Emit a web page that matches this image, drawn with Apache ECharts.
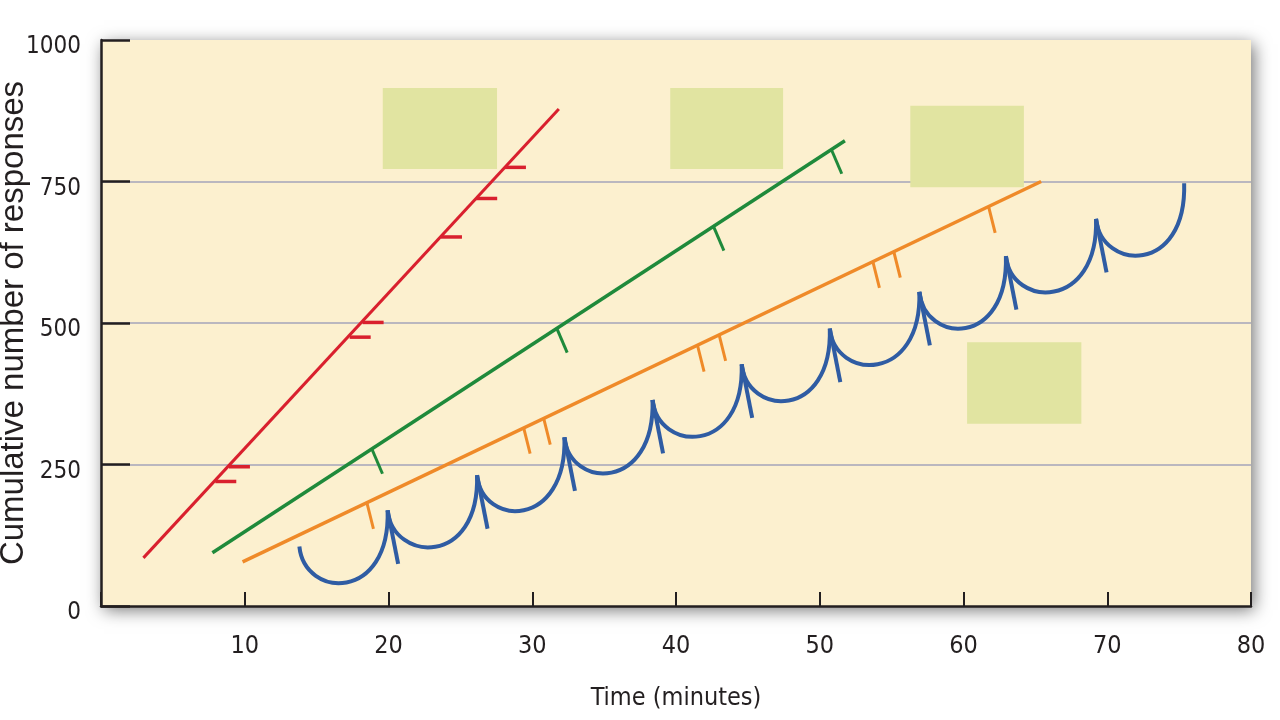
<!DOCTYPE html>
<html>
<head>
    <meta charset="utf-8">
    <title>Schedules of reinforcement</title>
    <script src="https://cdn.jsdelivr.net/npm/echarts@6/dist/echarts.min.js"></script>
    <style>
        html, body { margin: 0; padding: 0; background: #fff; }
        #main { width: 1280px; height: 720px; }
    </style>
</head>
<body>
    <div id="main"></div>
    <script type="text/javascript">
        // values (minutes, cumulative responses)
        var redLine = [[2.95, 85], [31.85, 878]];
        var redMarks = [[7.95, 220], [8.9, 246], [17.3, 475], [18.2, 501], [23.65, 652], [26.1, 720], [28.1, 775]];

        var greenLine = [[7.75, 94], [51.75, 822]];
        var greenMarks = [[18.85, 277], [31.7, 491], [42.6, 671], [50.8, 807]];

        var orangeLine = [[9.85, 78], [65.4, 750]];
        var orangeMarks = [[18.5, 182], [29.4, 315], [30.8, 331], [41.5, 460], [43.0, 479], [53.7, 608], [55.15, 626], [61.75, 705]];

        // start, cusps and end of the scalloped curve
        var blueCusps = [[13.8, 105], [19.94, 169], [26.16, 231], [32.24, 298], [38.37, 364], [44.57, 427],
                         [50.7, 490], [56.93, 555], [62.95, 618], [69.22, 684], [75.35, 747]];

        // empty label panels: [xFrom, yFrom, xTo, yTo]
        var labelBoxes = [[19.6, 772, 27.55, 915], [39.6, 772, 47.45, 915], [56.3, 740, 64.2, 884], [60.25, 322, 68.2, 466]];

        var xTicks = [0, 10, 20, 30, 40, 50, 60, 70, 80];
        var yTicks = [0, 250, 500, 750, 1000];

        var RED = '#d9202e', GREEN = '#1f8a3b', ORANGE = '#ef8a29', BLUE = '#2f5ca3';
        var INK = '#231f20';
        var narrow = '"Liberation Sans Narrow", "Arial Narrow", "DejaVu Sans Condensed", sans-serif';

        var chart = echarts.init(document.getElementById('main'), null, {renderer: 'canvas'});

        // short stroke hanging off a point, dx/dy in pixels
        function markSeries(name, data, color, dx, dy, width) {
            return {
                name: name,
                type: 'custom',
                data: data,
                encode: {x: 0, y: 1},
                silent: true,
                z: 4,
                renderItem: function (params, api) {
                    var p = api.coord([api.value(0), api.value(1)]);
                    return {
                        type: 'line',
                        shape: {x1: p[0], y1: p[1], x2: p[0] + dx, y2: p[1] + dy},
                        style: {stroke: color, lineWidth: width}
                    };
                }
            };
        }

        function lineSeries(name, data, color, width) {
            return {
                name: name,
                type: 'line',
                data: data,
                showSymbol: false,
                silent: true,
                z: 3,
                lineStyle: {color: color, width: width}
            };
        }

        var arcs = [];
        for (var i = 0; i < blueCusps.length - 1; i++) {
            arcs.push([blueCusps[i][0], blueCusps[i][1], blueCusps[i + 1][0], blueCusps[i + 1][1]]);
        }
        var cuspTicks = blueCusps.slice(1, blueCusps.length - 1);

        var option = {
            animation: false,
            backgroundColor: '#ffffff',
            grid: {
                left: 101, right: 29, top: 40, bottom: 114,
                containLabel: false,
                outerBoundsMode: 'none',
                show: true,
                backgroundColor: '#fcf0cf',
                borderWidth: 0,
                shadowBlur: 16,
                shadowColor: 'rgba(0,0,0,0.55)',
                shadowOffsetX: 3,
                shadowOffsetY: 4
            },
            xAxis: {
                type: 'value',
                min: xTicks[0],
                max: xTicks[xTicks.length - 1],
                interval: 10,
                name: 'Time (minutes)',
                nameLocation: 'middle',
                nameMoveOverlap: false,
                nameGap: 80,
                nameTextStyle: {fontFamily: narrow, fontSize: 25, color: INK},
                axisLine: {show: true, lineStyle: {color: INK, width: 2.5}},
                axisTick: {show: true, inside: true, length: 14, lineStyle: {color: INK, width: 2}},
                axisLabel: {
                    margin: 28,
                    fontFamily: narrow,
                    fontSize: 25,
                    color: INK,
                    formatter: function (v) { return v === 0 ? '' : String(v); }
                },
                splitLine: {show: false}
            },
            yAxis: {
                type: 'value',
                min: yTicks[0],
                max: yTicks[yTicks.length - 1],
                interval: 250,
                name: 'Cumulative number of responses',
                nameLocation: 'middle',
                nameMoveOverlap: false,
                nameRotate: 90,
                nameGap: 71,
                nameTextStyle: {fontFamily: '"Liberation Sans", Arial, sans-serif', fontSize: 33, color: INK},
                axisLine: {show: true, lineStyle: {color: INK, width: 2.5}},
                axisTick: {show: true, inside: true, length: 29, lineStyle: {color: INK, width: 2.5}},
                axisLabel: {
                    margin: 20,
                    fontFamily: narrow,
                    fontSize: 24,
                    color: INK,
                    verticalAlign: 'top',
                    lineHeight: 14,
                    formatter: function (v) { return String(v); }
                },
                splitLine: {show: true, showMinLine: false, showMaxLine: false, lineStyle: {color: '#bab7bf', width: 2}}
            },
            series: [
                {
                    name: 'panels',
                    type: 'custom',
                    data: labelBoxes,
                    encode: {x: [0, 2], y: [1, 3]},
                    silent: true,
                    z: 2,
                    renderItem: function (params, api) {
                        var a = api.coord([api.value(0), api.value(3)]);
                        var b = api.coord([api.value(2), api.value(1)]);
                        return {
                            type: 'rect',
                            shape: {x: a[0], y: a[1], width: b[0] - a[0], height: b[1] - a[1]},
                            style: {fill: '#e1e4a1'}
                        };
                    }
                },
                lineSeries('fixed ratio', redLine, RED, 3),
                markSeries('fixed ratio marks', redMarks, RED, 21, 0, 3.5),
                lineSeries('variable ratio', greenLine, GREEN, 3.5),
                markSeries('variable ratio marks', greenMarks, GREEN, 10.5, 24.5, 3),
                lineSeries('variable interval', orangeLine, ORANGE, 3.5),
                markSeries('variable interval marks', orangeMarks, ORANGE, 6.5, 26, 3),
                {
                    name: 'fixed interval',
                    type: 'custom',
                    data: arcs,
                    encode: {x: [0, 2], y: [1, 3]},
                    silent: true,
                    z: 5,
                    renderItem: function (params, api) {
                        var p0 = api.coord([api.value(0), api.value(1)]);
                        var p3 = api.coord([api.value(2), api.value(3)]);
                        var w = p3[0] - p0[0];
                        return {
                            type: 'bezierCurve',
                            shape: {
                                x1: p0[0], y1: p0[1],
                                x2: p3[0], y2: p3[1],
                                cpx1: p0[0] + 0.06 * w, cpy1: p0[1] + 52,
                                cpx2: p3[0] + 0.03 * w, cpy2: p3[1] + 92
                            },
                            style: {stroke: BLUE, lineWidth: 4, fill: null}
                        };
                    }
                },
                markSeries('fixed interval marks', cuspTicks, BLUE, 10.5, 53.5, 4)
            ]
        };

        chart.setOption(option);
    </script>
</body>
</html>
